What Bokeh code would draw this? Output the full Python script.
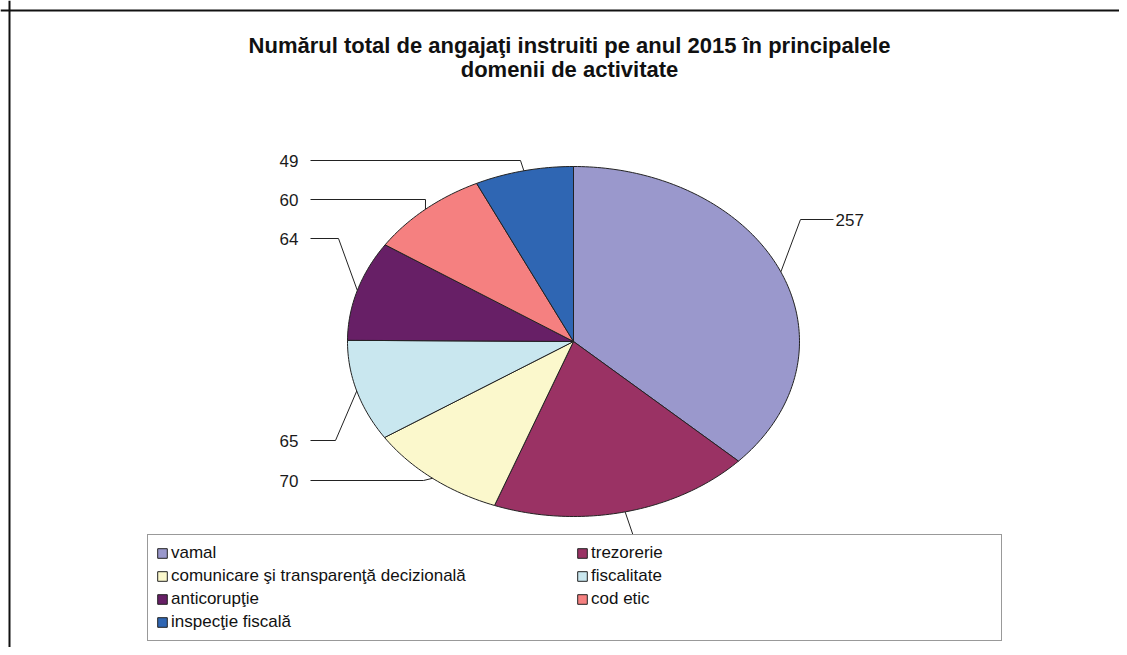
import numpy as np
from bokeh.plotting import figure
from bokeh.models import Range1d, Legend, LegendItem, Span, Label, ColumnDataSource
from bokeh.embed import file_html
from bokeh.resources import INLINE
from bokeh.core.properties import value

# ---------------- data ----------------
title_lines = ["Numărul total de angajaţi instruiti pe anul 2015 în principalele",
               "domenii de activitate"]
categories = ["vamal", "trezorerie", "comunicare şi transparenţă decizională",
              "fiscalitate", "anticorupţie", "cod etic", "inspecţie fiscală"]
values = [257, 130, 70, 65, 64, 60, 49]
show_label = [True, False, True, True, True, True, True]   # trezorerie label hidden by legend
colors = ["#9A98CC", "#9A3264", "#FBF8CC", "#C9E7EF", "#671F66", "#F58080", "#2F66B3"]
# legend reading order (row-major in the original, Bokeh fills columns first)
legend_order = [0, 2, 4, 6, 1, 3, 5]

# ---------------- layout (page coords, y down) ----------------
W, H = 1119, 647
CX, CY, RX, RY = 573, 341, 226, 175
lab_y   = [219, 580, 480, 440, 238, 199, 160]
elbow_x = [800, 648, 423, 335, 338, 425, 520]
start_x = [833, 648, 310, 310, 310, 310, 310]
lab_x   = [835, 648, 298, 298, 298, 298, 298]
lab_al  = ["left", "left", "right", "right", "right", "right", "right"]

p = figure(width=W, height=H, x_range=Range1d(0, W), y_range=Range1d(H, 0),
           toolbar_location=None, output_backend="svg", min_border=0,
           x_axis_location=None, y_axis_location=None)
p.grid.visible = False
p.outline_line_color = None
p.background_fill_color = "white"

vals = np.array(values, dtype=float)
total = vals.sum()
cum = np.concatenate([[0], np.cumsum(vals)]) / total * 2 * np.pi
xs, ys = [], []
edge_x, edge_y = [], []
for i in range(len(vals)):
    a0, a1 = cum[i], cum[i + 1]
    n = max(4, int((a1 - a0) / (2 * np.pi) * 360))
    t = np.linspace(a0, a1, n)
    xs.append(list(np.concatenate([[CX], CX + RX * np.sin(t)])))
    ys.append(list(np.concatenate([[CY], CY - RY * np.cos(t)])))
    m = (a0 + a1) / 2
    edge_x.append(CX + RX * np.sin(m))
    edge_y.append(CY - RY * np.cos(m))

src = ColumnDataSource(dict(xs=xs, ys=ys, color=colors, cat=categories))
r = p.patches("xs", "ys", source=src, fill_color="color", line_color="#222222", line_width=1)

# leader lines
lx = [[start_x[i], elbow_x[i], edge_x[i]] for i in range(len(vals))]
ly = [[lab_y[i], lab_y[i], edge_y[i]] for i in range(len(vals))]
p.multi_line(lx, ly, line_color="#222222", line_width=1)

# value labels
for al in ("left", "right"):
    idx = [i for i in range(len(vals)) if show_label[i] and lab_al[i] == al]
    s = ColumnDataSource(dict(x=[lab_x[i] for i in idx], y=[lab_y[i] for i in idx],
                              t=[str(values[i]) for i in idx]))
    p.text("x", "y", text="t", source=s, text_align=al, text_baseline="middle",
           text_font=value("Liberation Sans"), text_font_size="17px", text_color="#1a1a1a")

# title
for k, line in enumerate(title_lines):
    p.add_layout(Label(x=569, y=45 + 24 * k, text=line, text_align="center",
                       text_baseline="middle", text_font="Liberation Sans",
                       text_font_style="bold", text_font_size="22px", text_color="#111111"))

# frame lines (top and left)
p.add_layout(Span(location=9, dimension="height", line_color="#111111", line_width=2))
p.add_layout(Span(location=10, dimension="width", line_color="#111111", line_width=2))

items = [LegendItem(label=categories[i], renderers=[r], index=i) for i in legend_order]
legend = Legend(items=items, ncols=2, location=(147, 6),
                label_text_font="Liberation Sans", label_text_font_size="17px",
                label_text_color="#111111",
                glyph_width=12, glyph_height=12, label_height=19, label_standoff=3,
                label_width=402, spacing=3, padding=8,
                border_line_color="#333333", border_line_width=1.5,
                background_fill_color="white", background_fill_alpha=1)
p.add_layout(legend)

open("out.html", "w").write(file_html(p, INLINE))
